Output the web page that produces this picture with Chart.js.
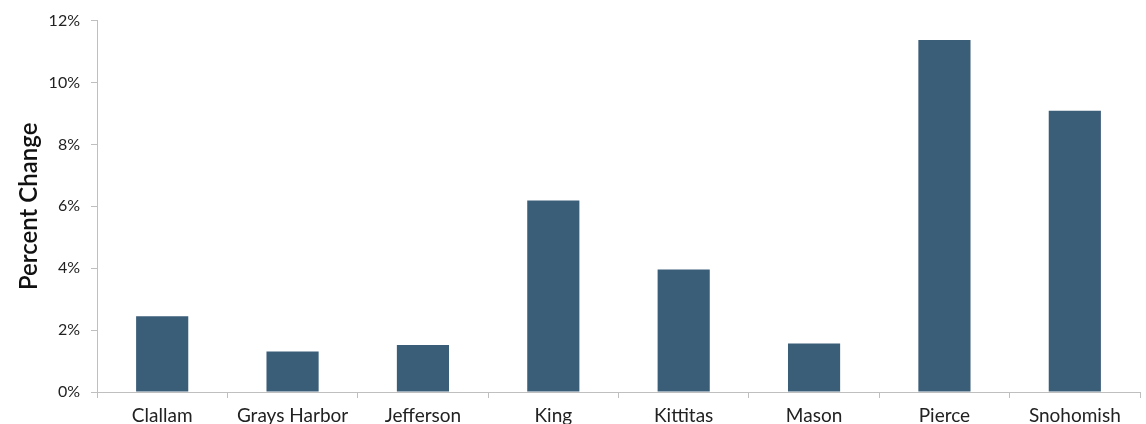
<!DOCTYPE html>
<html>
<head>
<meta charset="utf-8">
<script src="https://cdn.jsdelivr.net/npm/chart.js@4/dist/chart.umd.min.js"></script>
<style>
  html, body { margin: 0; padding: 0; background: #fff; }
  #graphique { display: block; }
</style>
</head>
<body>
<canvas id="graphique" width="1146" height="424"></canvas>
<script>
// comtés et variation en pourcentage
const comtes = ['Clallam', 'Grays Harbor', 'Jefferson', 'King', 'Kittitas', 'Mason', 'Pierce', 'Snohomish'];
const variations = [2.45, 1.31, 1.52, 6.19, 3.96, 1.57, 11.37, 9.09];
const ticksY = [0, 2, 4, 6, 8, 10, 12];

const couleurBarre = '#3a5d78';
const couleurAxe = '#bfbfbf';

const graph = document.getElementById('graphique');

new Chart(graph, {
    type: 'bar',
    data: {
        labels: comtes,
        datasets: [{
            data: variations,
            backgroundColor: couleurBarre,
            borderWidth: 0,
            categoryPercentage: 1,
            barPercentage: 0.4
        }]
    },
    options: {
        responsive: false,
        animation: false,
        layout: {
            padding: { left: 15, right: 6, top: 20, bottom: 0 }
        },
        plugins: {
            legend: { display: false },
            tooltip: { enabled: false }
        },
        scales: {
            y: {
                min: 0,
                max: 12,
                afterBuildTicks: axis => {
                    axis.ticks = ticksY.map(v => ({ value: v }));
                },
                afterFit: axis => { axis.width = 82; },
                border: { display: true, color: couleurAxe, width: 1 },
                grid: {
                    display: true,
                    drawOnChartArea: false,
                    drawTicks: true,
                    tickLength: 6,
                    color: couleurAxe
                },
                ticks: {
                    padding: 11,
                    color: '#222',
                    font: { family: 'Lato', size: 16 },
                    callback: v => v + '%'
                },
                title: {
                    display: true,
                    text: 'Percent Change',
                    color: '#111',
                    padding: 0,
                    font: { family: 'Lato', size: 24, weight: '600', lineHeight: 1.2 }
                }
            },
            x: {
                afterFit: axis => { axis.height = 32; },
                border: { display: true, color: couleurAxe, width: 1 },
                grid: {
                    display: true,
                    offset: true,
                    drawOnChartArea: false,
                    drawTicks: true,
                    tickLength: 6,
                    color: couleurAxe
                },
                ticks: {
                    padding: 6,
                    color: '#222',
                    autoSkip: false,
                    maxRotation: 0,
                    font: { family: 'Lato', size: 19 }
                }
            }
        }
    }
});
</script>
</body>
</html>
